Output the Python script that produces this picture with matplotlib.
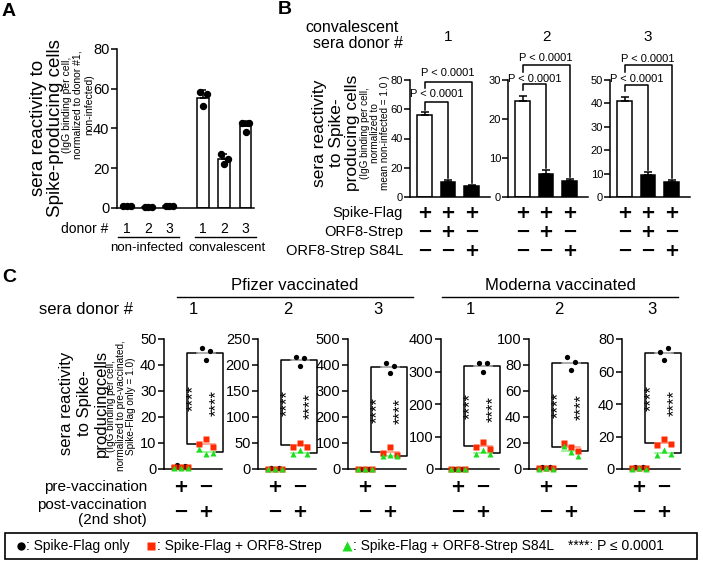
import numpy as np
import matplotlib.pyplot as plt
import matplotlib.transforms as mtransforms
from matplotlib.lines import Line2D
from matplotlib.patches import Rectangle

plt.rcParams['font.family'] = ['Liberation Sans', 'DejaVu Sans']
plt.rcParams['axes.linewidth'] = 1.1

# ---------------- data ----------------
# panel A: sera reactivity, three replicate wells per donor
a_donors = ['1', '2', '3', '1', '2', '3']
a_groups = ['non-infected', 'convalescent']
a_points = [
    [1.1, 1.0, 0.9],
    [0.4, 0.5, 0.5],
    [0.8, 0.8, 0.9],
    [58.2, 57.2, 51.3],
    [27.0, 24.6, 22.1],
    [43.0, 42.6, 38.0],
]

# panel B: convalescent donors 1-3, mean and SD per condition
b_rows = ['Spike-Flag', 'ORF8-Strep', 'ORF8-Strep S84L']
b_signs = [['+', '+', '+'], ['\u2212', '+', '\u2212'], ['\u2212', '\u2212', '+']]
b_donors = ['1', '2', '3']
b_means = [[56.0, 10.2, 7.6], [24.5, 6.0, 4.0], [41.0, 9.5, 6.5]]
b_sd = [[2.3, 1.3, 0.6], [1.5, 0.8, 0.6], [1.8, 1.0, 0.7]]
b_ymax = [80, 30, 50]
b_step = [20, 10, 10]
b_pval = 'P < 0.0001'

# panel C: vaccinated donors (Pfizer 1-3, Moderna 1-3)
c_donors = ['1', '2', '3', '1', '2', '3']
c_ymax = [50, 250, 500, 400, 100, 80]
c_step = [10, 50, 100, 100, 20, 20]
c_black_pre = [[1.4, 1.2, 0.8]] * 6
c_red_pre = [[0.7, 0.9, 0.6]] * 6
c_green_pre = [[0.3, 0.4, 0.3]] * 6
c_black_post = [[46.5, 45.2, 42.0], [216, 213, 199], [407, 398, 368],
                [327, 327, 298], [86, 82, 76], [72.3, 74.4, 67.0]]
c_red_post = [[9.6, 11.4, 8.4], [43, 50, 43], [62, 84, 52],
              [67, 82, 62], [20, 17, 14], [14.5, 18.6, 15.5]]
c_green_post = [[7.6, 5.8, 6.0], [29, 36, 29], [50, 55, 49],
                [45, 59, 45], [17.5, 13, 10], [8.9, 11.5, 9.5]]
c_pre_signs = ['+', '\u2212']
c_post_signs = ['\u2212', '+']

# ---------------- layout helpers ----------------
W, H = 703, 562
fig = plt.figure(figsize=(W / 100, H / 100), dpi=100)


def add_ax(left, top, right, bottom):
    return fig.add_axes([left / W, 1 - bottom / H, (right - left) / W, (bottom - top) / H])


def fig_text(x, y, s, **kw):
    return fig.text(x / W, 1 - y / H, s, **kw)


def col_tr(ax):
    return mtransforms.blended_transform_factory(ax.transData, fig.transFigure)


def col_text(ax, x, y, s, **kw):
    return ax.text(x, 1 - y / H, s, transform=col_tr(ax), clip_on=False, **kw)


def px2data(ax, ypx):
    return ax.transData.inverted().transform((0, H - ypx))[1]


def style_ax(ax, ymax, step, fs, pad=1.5):
    for s in ['top', 'right']:
        ax.spines[s].set_visible(False)
    ax.set_ylim(0, ymax)
    ax.set_yticks(np.arange(0, ymax + 1, step))
    ax.set_xticks([])
    ax.tick_params(axis='y', direction='out', length=4, width=1.1, labelsize=fs, pad=pad)
    ax.patch.set_alpha(0)


SIGN = dict(fontsize=13, fontweight='bold', family='DejaVu Sans', ha='center', va='center')

# ---------------- panel A ----------------
fig_text(2, 12, 'A', fontsize=14, fontweight='bold', va='center')
ax = add_ax(117, 49, 254, 208)
a_x = np.array([0, 1, 2, 3.6, 4.6, 5.6])
a_jit = np.array([-0.17, 0.17, 0.0])
for i, pts in enumerate(a_points):
    m = np.mean(pts)
    sd = np.std(pts, ddof=1)
    ax.bar(a_x[i], m, width=0.56, color='white', edgecolor='black', linewidth=1.1, zorder=1)
    ax.errorbar(a_x[i], m, yerr=[[0], [sd]], fmt='none', ecolor='black',
                capsize=2.5, elinewidth=1.1, capthick=1.1, zorder=2)
    ax.plot(a_x[i] + a_jit, pts, 'o', color='black', ms=4.3, zorder=3, clip_on=False)
ax.set_xlim(-0.47, 6.0)
style_ax(ax, 80, 20, 10.5)

fig_text(108, 229, 'donor #', ha='right', va='center', fontsize=10)
for xi, d in zip(a_x, a_donors):
    col_text(ax, xi, 229, d, ha='center', va='center', fontsize=10)
for (x0, x1), g, xc in zip([(-0.42, 2.47), (3.2, 6.1)], a_groups, [0.95, 4.75]):
    ax.plot([x0, x1], [1 - 237 / H] * 2, color='black', lw=1.0,
            transform=col_tr(ax), clip_on=False)
    col_text(ax, xc, 248, g, ha='center', va='center', fontsize=9.5)

fig_text(47, 128, 'sera reactivity to\nSpike-producing cells', rotation=90,
         ha='center', va='center', fontsize=13.5, linespacing=0.95)
fig_text(78, 105, '(IgG binding per cell,\nnormalized to donor #1,\nnon-infected)',
         rotation=90, ha='center', va='center', fontsize=7.5, linespacing=1.15)

# ---------------- panel B ----------------
fig_text(278, 10, 'B', fontsize=14, fontweight='bold', va='center')
fig_text(352, 28, 'convalescent', ha='center', va='center', fontsize=11.5)
fig_text(358, 43.5, 'sera donor #', ha='center', va='center', fontsize=11.5)
fig_text(336, 133, 'sera reactivity\nto Spike-\nproducing cells', rotation=90,
         ha='center', va='center', fontsize=12.5, linespacing=1.15)
fig_text(375, 133, '(IgG binding per cell,\nnormalized to\nmean non-infected = 1.0 )',
         rotation=90, ha='center', va='center', fontsize=7.2, linespacing=0.95)
for r, label in enumerate(b_rows):
    fig_text(403, 213 + 19 * r, label, ha='right', va='center', fontsize=10.5)

b_left = [410, 508, 610]
# bracket pixel heights: (upper line, upper leg end, lower line, lower leg end, upper text, lower text)
b_brk = [(82, 88, 102, 110, 73, 94), (65, 72, 84, 90, 58, 79), (65, 72, 85, 91, 59, 79)]
for k in range(3):
    ax = add_ax(b_left[k], 80, b_left[k] + 80, 197)
    xs = np.arange(3)
    ax.bar(xs, b_means[k], width=0.62, color=['white', 'black', 'black'],
           edgecolor='black', linewidth=1.1, zorder=1)
    ax.errorbar(xs, b_means[k], yerr=[np.zeros(3), b_sd[k]], fmt='none', ecolor='black',
                capsize=3, elinewidth=1.1, capthick=1.1, zorder=2)
    ax.set_xlim(-0.62, 2.78)
    style_ax(ax, b_ymax[k], b_step[k], 8, pad=1)
    col_text(ax, 1, 37, b_donors[k], ha='center', va='center', fontsize=11)
    for r in range(3):
        for c in range(3):
            col_text(ax, c, 213 + 19 * r, b_signs[r][c], **SIGN)
    up, upleg, lo, loleg, tup, tlo = b_brk[k]
    gap = b_ymax[k] * 2 / 117
    for j, yl, leg, ty in [(2, up, upleg, tup), (1, lo, loleg, tlo)]:
        yb = px2data(ax, yl)
        ax.plot([0, 0, j, j], [px2data(ax, leg), yb, yb, b_means[k][j] + b_sd[k][j] + gap],
                color='black', lw=1.1, clip_on=False)
        ax.text(j / 2, px2data(ax, ty), b_pval, ha='center', va='center', fontsize=8,
                clip_on=False)

# ---------------- panel C ----------------
fig_text(2, 277, 'C', fontsize=14, fontweight='bold', va='center')
fig_text(86, 310, 'sera donor #', ha='center', va='center', fontsize=12)
for (x0, x1), name in zip([(177, 413), (442, 678)], ['Pfizer vaccinated', 'Moderna vaccinated']):
    fig.add_artist(Line2D([x0 / W, x1 / W], [1 - 297 / H] * 2, color='black', lw=1.0))
    fig_text((x0 + x1) / 2, 285, name, ha='center', va='center', fontsize=12)
fig_text(84, 403, 'sera reactivity\nto Spike-\nproducingcells', rotation=90,
         ha='center', va='center', fontsize=12, linespacing=1.2)
fig_text(121, 406, '(IgG binding per cell,\nnormalized to pre-vaccinated,\nSpike-Flag only = 1.0)',
         rotation=90, ha='center', va='center', fontsize=7.2, linespacing=1.05)
fig_text(147, 487, 'pre-vaccination', ha='right', va='center', fontsize=11)
fig_text(147, 505, 'post-vaccination', ha='right', va='center', fontsize=11)
fig_text(147, 520, '(2nd shot)', ha='right', va='center', fontsize=11)

c_left = [164, 258, 348, 441, 529, 622]
groups = [
    (c_black_pre, c_black_post, 'o', 'black', 3.8, '#a0a0a0', [-0.15, 0.15, 0.0]),
    (c_red_pre, c_red_post, 's', '#ff2a00', 4.0, '#ff9a8a', [-0.28, 0.0, 0.28]),
    (c_green_pre, c_green_post, '^', '#1edc1e', 4.3, '#8cf58c', [-0.28, 0.0, 0.28]),
]
for k in range(6):
    ax = add_ax(c_left[k], 339, c_left[k] + 58, 469)
    ax.set_xlim(-0.68, 1.64)
    style_ax(ax, c_ymax[k], c_step[k], 10.5)
    means = []
    for pre, post, mk, col, ms, mcol, jit in groups:
        for xc, vals in [(0, pre[k]), (1, post[k])]:
            m = np.mean(vals)
            ax.plot([xc - 0.35, xc + 0.35], [m, m], color=mcol, lw=1.2, zorder=2, clip_on=False)
            ax.plot(xc + np.array(jit), vals, mk, color=col, ms=ms, mec='none', zorder=3,
                    clip_on=False)
        means.append(np.mean(post[k]))
    top, red_m, green_m = means
    ax.plot([0.64, 0.24, 0.24, 0.64], [top, top, red_m, red_m], color='black', lw=1.1,
            zorder=1, clip_on=False)
    ax.plot([1.3, 1.66, 1.66, 1.3], [top, top, green_m, green_m], color='black', lw=1.1,
            zorder=1, clip_on=False)
    ax.text(0.49, (top + red_m) / 2, '****', rotation=90, ha='center', va='center',
            fontsize=12, clip_on=False)
    ax.text(1.4, (top + green_m) / 2, '****', rotation=90, ha='center', va='center',
            fontsize=12, clip_on=False)
    col_text(ax, 0.5, 310, c_donors[k], ha='center', va='center', fontsize=12)
    for c in range(2):
        col_text(ax, c, 487, c_pre_signs[c], **SIGN)
        col_text(ax, c, 512, c_post_signs[c], **SIGN)

# ---------------- legend ----------------
fig.add_artist(Rectangle((5 / W, 1 - 559 / H), 692 / W, 26 / H, fill=False,
                         edgecolor='black', lw=1.2, transform=fig.transFigure))
ly = 546
for x, mk, col, ms in [(21, 'o', 'black', 6), (151, 's', '#ff2a00', 6),
                       (347, '^', '#1edc1e', 7)]:
    fig.add_artist(Line2D([x / W], [1 - ly / H], marker=mk, color=col, ms=ms, mec='none'))
for x, s in [(26, ': Spike-Flag only'), (157, ': Spike-Flag + ORF8-Strep'),
             (353, ': Spike-Flag + ORF8-Strep S84L'), (568, '****: P \u2264 0.0001')]:
    fig_text(x, ly, s, ha='left', va='center', fontsize=10)

fig.savefig('out.png', dpi=100)
